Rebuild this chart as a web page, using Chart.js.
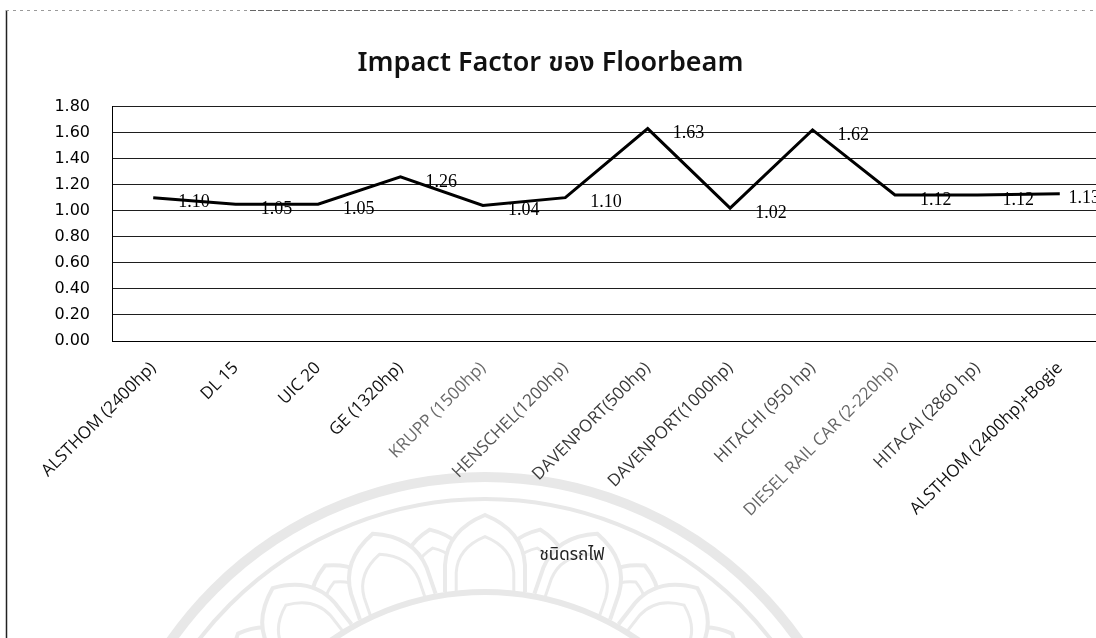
<!DOCTYPE html>
<html>
<head>
<meta charset="utf-8">
<title>Impact Factor ของ Floorbeam</title>
<script src="https://cdn.jsdelivr.net/npm/chart.js@4/dist/chart.umd.min.js"></script>
<style>
  html, body { margin: 0; padding: 0; background: #fff; overflow: hidden; }
  #wrap { position: relative; width: 1104px; height: 638px; }
</style>
</head>
<body>
<div id="wrap"><canvas id="chart" width="1104" height="638"></canvas></div>
<script>
// Locomotive types (x categories)
const categories = [
  'ALSTHOM (2400hp)', 'DL 15', 'UIC 20', 'GE (1320hp)', 'KRUPP (1500hp)',
  'HENSCHEL(1200hp)', 'DAVENPORT(500hp)', 'DAVENPORT(1000hp)', 'HITACHI (950 hp)',
  'DIESEL RAIL CAR (2-220hp)', 'HITACAI (2860 hp)', 'ALSTHOM (2400hp)+Bogie'
];
// Impact factor of the floorbeam for each locomotive
const impactFactor = [1.10, 1.05, 1.05, 1.26, 1.04, 1.10, 1.63, 1.02, 1.62, 1.12, 1.12, 1.13];
// Value axis ticks
const yTicks = [0.00, 0.20, 0.40, 0.60, 0.80, 1.00, 1.20, 1.40, 1.60, 1.80];

const chartTitle = 'Impact Factor ของ Floorbeam';
const xAxisTitle = 'ชนิดรถไฟ';

// per-label ink of the category names
const tickInk = ['#111', '#111', '#111', '#111', '#6a6a6a', '#555',
                 '#3a3a3a', '#333', '#4a4a4a', '#666', '#3a3a3a', '#111'];

const thaiFamily = '"Noto Sans Thai", "Tahoma", "Loma", "Garuda", "Noto Sans", "DejaVu Sans", sans-serif';

// faint seal behind the chart, page frame and value labels
const decor = {
  id: 'decor',
  beforeDraw(chart) {
    const ctx = chart.ctx;
    ctx.save();
    ctx.fillStyle = '#fff';
    ctx.fillRect(0, 0, chart.width, chart.height);

    const cx = 485, cy = 860;
    ctx.strokeStyle = '#e8e8e8';
    ctx.lineWidth = 10;
    ctx.beginPath(); ctx.arc(cx, cy, 383, 0, Math.PI * 2); ctx.stroke();
    ctx.lineWidth = 4;
    ctx.beginPath(); ctx.arc(cx, cy, 361, 0, Math.PI * 2); ctx.stroke();

    const petal = (deg, rb, rt, w) => {
      ctx.save();
      ctx.translate(cx, cy);
      ctx.rotate(deg * Math.PI / 180);
      const shape = (s) => {
        const h = (rt - rb) * s, ww = w * s;
        ctx.beginPath();
        ctx.moveTo(-ww, -rb);
        ctx.lineTo(-ww, -rb - h * 0.35);
        ctx.quadraticCurveTo(-ww * 0.95, -rb - h * 0.8, 0, -rb - h);
        ctx.quadraticCurveTo(ww * 0.95, -rb - h * 0.8, ww, -rb - h * 0.35);
        ctx.lineTo(ww, -rb);
      };
      shape(1);
      ctx.fillStyle = '#fff';
      ctx.fill();
      ctx.lineWidth = 4;
      ctx.strokeStyle = '#eaeaea';
      ctx.stroke();
      shape(0.72);
      ctx.lineWidth = 3;
      ctx.stroke();
      ctx.restore();
    };
    for (let a = -85.5; a <= 86; a += 19) petal(a, 268, 335, 34);
    for (let a = -76; a <= 77; a += 19) petal(a, 268, 345, 40);
    ctx.strokeStyle = '#e8e8e8';
    ctx.lineWidth = 6;
    ctx.beginPath(); ctx.arc(cx, cy, 268, 0, Math.PI * 2); ctx.stroke();

    // page frame
    ctx.strokeStyle = '#222';
    ctx.lineWidth = 1.5;
    ctx.beginPath(); ctx.moveTo(6.5, 10); ctx.lineTo(6.5, 638); ctx.stroke();
    ctx.strokeStyle = '#9a9a9a';
    ctx.lineWidth = 1;
    ctx.setLineDash([3, 4]);
    ctx.beginPath(); ctx.moveTo(6, 10.5); ctx.lineTo(250, 10.5); ctx.stroke();
    ctx.strokeStyle = '#666';
    ctx.setLineDash([6, 2]);
    ctx.beginPath(); ctx.moveTo(250, 10.5); ctx.lineTo(1010, 10.5); ctx.stroke();
    ctx.strokeStyle = '#9a9a9a';
    ctx.setLineDash([3, 5]);
    ctx.beginPath(); ctx.moveTo(1010, 10.5); ctx.lineTo(1104, 10.5); ctx.stroke();
    ctx.restore();
  },
  afterDatasetsDraw(chart) {
    const ctx = chart.ctx;
    const meta = chart.getDatasetMeta(0);
    ctx.save();
    ctx.font = '18px "Liberation Serif", "Times New Roman", serif';
    ctx.fillStyle = '#000';
    ctx.textAlign = 'left';
    ctx.textBaseline = 'middle';
    meta.data.forEach((pt, i) => {
      const txt = impactFactor[i].toFixed(2);
      const w = ctx.measureText(txt).width;
      let x = pt.x + 25;
      if (x + w > chart.width - 4) x = chart.width - 4 - w;
      ctx.fillText(txt, x, pt.y + 5);
    });
    ctx.restore();
  },
  afterDraw(chart) {
    const ctx = chart.ctx;
    ctx.save();
    ctx.font = '17px ' + thaiFamily;
    ctx.fillStyle = '#222';
    ctx.textAlign = 'center';
    ctx.textBaseline = 'middle';
    ctx.fillText(xAxisTitle, 572, 557);
    ctx.restore();
  }
};

new Chart(document.getElementById('chart'), {
  type: 'line',
  data: {
    labels: categories,
    datasets: [{
      label: 'Impact Factor',
      data: impactFactor,
      borderColor: '#000',
      borderWidth: 3,
      pointRadius: 0,
      pointHoverRadius: 0,
      tension: 0,
      fill: false
    }]
  },
  options: {
    responsive: false,
    devicePixelRatio: 1,
    animation: false,
    layout: { padding: { left: 0, right: 3, top: 0, bottom: 0 } },
    plugins: {
      legend: { display: false },
      tooltip: { enabled: false },
      title: {
        display: true,
        text: chartTitle,
        color: '#111',
        font: { family: thaiFamily, size: 27, weight: '600' },
        padding: { top: 49, bottom: 25 }
      }
    },
    scales: {
      x: {
        type: 'category',
        offset: true,
        grid: { display: false, drawTicks: false },
        border: { display: true, color: '#000', width: 1 },
        ticks: {
          autoSkip: false,
          maxRotation: 45,
          minRotation: 45,
          padding: 17,
          color: (c) => tickInk[c.index] || '#111',
          font: { family: '"Open Sans", "Noto Sans", sans-serif', size: 17 }
        },
        afterFit(s) { s.height = 297; }
      },
      y: {
        min: 0,
        max: 1.8,
        afterBuildTicks(s) { s.ticks = yTicks.map(v => ({ value: v })); },
        grid: { color: '#1e1e1e', lineWidth: 1, drawTicks: false },
        border: { display: true, color: '#000', width: 1 },
        ticks: {
          padding: 22,
          color: '#000',
          font: { family: '"DejaVu Sans", sans-serif', size: 16 },
          callback: (v) => Number(v).toFixed(2)
        },
        afterFit(s) { s.width = 112; }
      }
    }
  },
  plugins: [decor]
});
</script>
</body>
</html>
